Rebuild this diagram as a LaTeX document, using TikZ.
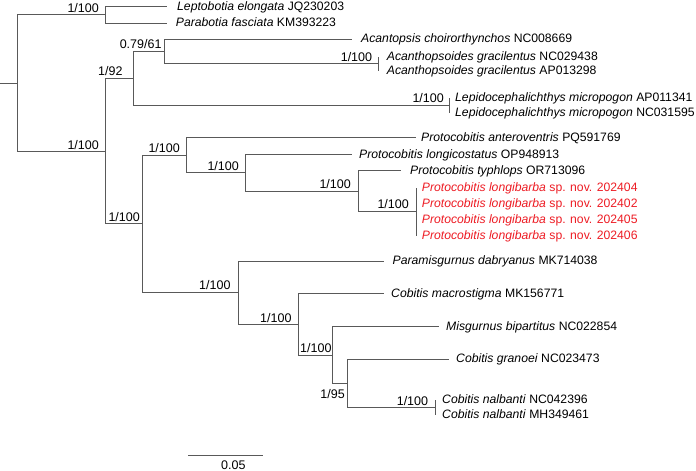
\documentclass[tikz,border=0pt]{standalone}
\usepackage{fontspec}
\setmainfont{Liberation Sans}
\definecolor{branch}{gray}{0.35}
\definecolor{newsp}{RGB}{237,28,36}
\begin{document}
\begin{tikzpicture}[x=1pt,y=-1pt,
  br/.style={draw=branch,line width=0.9pt},
  leaf/.style={anchor=base west,inner sep=0pt,font=\fontsize{12.2}{14}\selectfont},
  newleaf/.style={leaf,text=newsp},
  supp/.style={anchor=base east,inner sep=0pt,font=\fontsize{12.5}{14}\selectfont}]
\useasboundingbox (0,0) rectangle (696,471);
% leaf tips
\coordinate (l1) at (166.7,6.7);
\coordinate (l2) at (166.7,23);
\coordinate (l3) at (352,39.3);
\coordinate (l4) at (378.5,56.5);
\coordinate (l5) at (378.5,71);
\coordinate (l6) at (449.7,98);
\coordinate (l7) at (449.7,112.5);
\coordinate (l8) at (416,137.5);
\coordinate (l9) at (352,154.5);
\coordinate (l10) at (401,170.7);
\coordinate (l11) at (416.7,187.5);
\coordinate (l12) at (416.7,203.5);
\coordinate (l13) at (416.7,219.5);
\coordinate (l14) at (416.7,235.5);
\coordinate (l15) at (384,261);
\coordinate (l16) at (384,293.7);
\coordinate (l17) at (439,326.7);
\coordinate (l18) at (449,359.3);
\coordinate (l19) at (435,400);
\coordinate (l20) at (435,415);
% internal nodes
\coordinate (stub) at (0,83);
\coordinate (root) at (17,83);
\coordinate (nLP) at (105.3,14.85);
\coordinate (nB) at (105.3,151.15);
\coordinate (n92) at (133.3,78.4);
\coordinate (n79) at (164,51.5);
\coordinate (nAcs) at (378.5,63.75);
\coordinate (nLep) at (449.7,105.25);
\coordinate (nP) at (142.7,223.9);
\coordinate (nPr) at (186.5,155.15);
\coordinate (nLc) at (245.8,172.8);
\coordinate (nTy) at (358.5,191.1);
\coordinate (nLb) at (416.7,211.5);
\coordinate (nCob) at (238.3,292.7);
\coordinate (nM) at (298.3,324.4);
\coordinate (nMis) at (332.7,355.05);
\coordinate (n95) at (347.3,383.4);
\coordinate (nNal) at (435,407.5);
% branches
\draw[br] (stub) -- (root);
\draw[br] (root) |- (nLP);
\draw[br] (root) |- (nB);
\draw[br] (nLP) |- (l1);
\draw[br] (nLP) |- (l2);
\draw[br] (nB) |- (n92);
\draw[br] (nB) |- (nP);
\draw[br] (n92) |- (n79);
\draw[br] (n92) |- (nLep);
\draw[br] (n79) |- (l3);
\draw[br] (n79) |- (nAcs);
\draw[br] (nAcs) |- (l4);
\draw[br] (nAcs) |- (l5);
\draw[br] (nLep) |- (l6);
\draw[br] (nLep) |- (l7);
\draw[br] (nP) |- (nPr);
\draw[br] (nP) |- (nCob);
\draw[br] (nPr) |- (l8);
\draw[br] (nPr) |- (nLc);
\draw[br] (nLc) |- (l9);
\draw[br] (nLc) |- (nTy);
\draw[br] (nTy) |- (l10);
\draw[br] (nTy) |- (nLb);
\draw[br] (nLb) |- (l11);
\draw[br] (nLb) |- (l14);
\draw[br] (nCob) |- (l15);
\draw[br] (nCob) |- (nM);
\draw[br] (nM) |- (l16);
\draw[br] (nM) |- (nMis);
\draw[br] (nMis) |- (l17);
\draw[br] (nMis) |- (n95);
\draw[br] (n95) |- (l18);
\draw[br] (n95) |- (nNal);
\draw[br] (nNal) |- (l19);
\draw[br] (nNal) |- (l20);
% leaf labels
\node[leaf] (t1) at (177,10.2) {\textit{Leptobotia elongata} JQ230203};
\node[leaf] (t2) at (175.7,26.5) {\textit{Parabotia fasciata} KM393223};
\node[leaf] (t3) at (361,42.8) {\textit{Acantopsis choirorthynchos} NC008669};
\node[leaf] (t4) at (386.7,60) {\textit{Acanthopsoides gracilentus} NC029438};
\node[leaf] (t5) at (386.7,74.5) {\textit{Acanthopsoides gracilentus} AP013298};
\node[leaf] (t6) at (455,101.5) {\textit{Lepidocephalichthys micropogon} AP011341};
\node[leaf] (t7) at (455,116) {\textit{Lepidocephalichthys micropogon} NC031595};
\node[leaf] (t8) at (421,141) {\textit{Protocobitis anteroventris} PQ591769};
\node[leaf] (t9) at (359,158) {\textit{Protocobitis longicostatus} OP948913};
\node[leaf] (t10) at (410,174.2) {\textit{Protocobitis typhlops} OR713096};
\node[newleaf] (t11) at (421.7,191) {\textit{Protocobitis longibarba} sp. nov. 202404};
\node[newleaf] (t12) at (421.7,207) {\textit{Protocobitis longibarba} sp. nov. 202402};
\node[newleaf] (t13) at (421.7,223) {\textit{Protocobitis longibarba} sp. nov. 202405};
\node[newleaf] (t14) at (421.7,239) {\textit{Protocobitis longibarba} sp. nov. 202406};
\node[leaf] (t15) at (392.5,264.5) {\textit{Paramisgurnus dabryanus} MK714038};
\node[leaf] (t16) at (391,297.2) {\textit{Cobitis macrostigma} MK156771};
\node[leaf] (t17) at (446,330.2) {\textit{Misgurnus bipartitus} NC022854};
\node[leaf] (t18) at (456,362.8) {\textit{Cobitis granoei} NC023473};
\node[leaf] (t19) at (442,403.5) {\textit{Cobitis nalbanti} NC042396};
\node[leaf] (t20) at (442,418.5) {\textit{Cobitis nalbanti} MH349461};
% support values
\node[supp] (s1) at (99,12.3) {1/100};
\node[supp] (s2) at (99,149) {1/100};
\node[supp] (s3) at (122.7,75.5) {1/92};
\node[supp] (s4) at (161.7,48.5) {0.79/61};
\node[supp] (s5) at (372.3,61.5) {1/100};
\node[supp] (s6) at (444,102.7) {1/100};
\node[supp] (s7) at (180,152.5) {1/100};
\node[supp] (s8) at (140,221) {1/100};
\node[supp] (s9) at (239,170) {1/100};
\node[supp] (s10) at (351,188) {1/100};
\node[supp] (s11) at (409,208.5) {1/100};
\node[supp] (s12) at (230.7,289.5) {1/100};
\node[supp] (s13) at (291.7,322) {1/100};
\node[supp] (s14) at (331.7,352) {1/100};
\node[supp] (s15) at (345,398) {1/95};
\node[supp] (s16) at (428.3,405) {1/100};
% scale bar
\coordinate (sb1) at (188.3,455);
\coordinate (sb2) at (263.3,455);
\draw[br] (sb1) -- (sb2);
\node[anchor=base,inner sep=0pt,font=\fontsize{12.5}{14}\selectfont] (sbl) at (233.3,469.5) {0.05};
\end{tikzpicture}
\end{document}
